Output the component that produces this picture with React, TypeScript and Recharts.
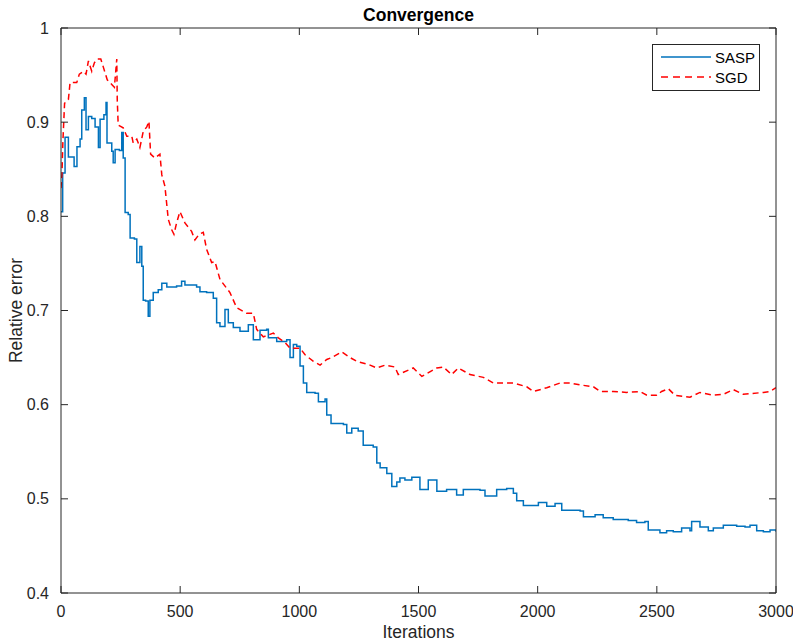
import { Legend, Line, LineChart, XAxis, YAxis } from "recharts";

// SASP relative error vs iteration
const saspIter = [
  0, 7, 17, 31, 55, 67, 80, 87, 98, 105, 115, 129, 143, 157, 164, 180, 189, 193, 213, 219, 227, 245, 255, 261, 269,
  282, 290, 308, 318, 331, 339, 345, 355, 366, 373, 387, 408, 423, 444, 485, 506, 520, 569, 583, 611, 639, 653, 667,
  688, 702, 723, 751, 786, 807, 835, 863, 870, 905, 947, 961, 975, 989, 1003, 1017, 1031, 1066, 1080, 1108, 1115,
  1133, 1185, 1199, 1220, 1247, 1268, 1310, 1325, 1339, 1367, 1388, 1409, 1422, 1443, 1472, 1506, 1541, 1577, 1618,
  1660, 1688, 1758, 1779, 1828, 1870, 1898, 1912, 1940, 1989, 2003, 2038, 2073, 2101, 2136, 2178, 2192, 2241, 2275,
  2317, 2380, 2415, 2450, 2464, 2513, 2541, 2569, 2604, 2639, 2646, 2681, 2716, 2737, 2779, 2835, 2870, 2891, 2919,
  2947, 2975, 3000,
];
const saspErr = [
  0.805, 0.846, 0.884, 0.863, 0.853, 0.874, 0.882, 0.913, 0.926, 0.892, 0.906, 0.904, 0.895, 0.873, 0.903, 0.908,
  0.921, 0.878, 0.869, 0.857, 0.871, 0.87, 0.889, 0.862, 0.804, 0.802, 0.777, 0.776, 0.751, 0.768, 0.747, 0.711, 0.71,
  0.694, 0.711, 0.719, 0.722, 0.729, 0.725, 0.726, 0.731, 0.727, 0.725, 0.72, 0.719, 0.713, 0.687, 0.683, 0.701,
  0.687, 0.682, 0.678, 0.685, 0.669, 0.679, 0.68, 0.671, 0.667, 0.669, 0.65, 0.664, 0.662, 0.641, 0.623, 0.613, 0.612,
  0.603, 0.606, 0.589, 0.58, 0.579, 0.57, 0.575, 0.572, 0.557, 0.555, 0.538, 0.533, 0.527, 0.513, 0.518, 0.522, 0.52,
  0.523, 0.51, 0.52, 0.508, 0.51, 0.504, 0.51, 0.509, 0.503, 0.51, 0.511, 0.506, 0.498, 0.493, 0.493, 0.496, 0.492,
  0.495, 0.488, 0.488, 0.487, 0.481, 0.483, 0.48, 0.478, 0.477, 0.475, 0.476, 0.467, 0.464, 0.466, 0.465, 0.469,
  0.466, 0.476, 0.47, 0.466, 0.469, 0.472, 0.471, 0.47, 0.472, 0.466, 0.465, 0.467, 0.465,
];

// SGD relative error vs iteration
const sgdIter = [
  0, 4, 8, 15, 31, 38, 66, 77, 94, 105, 115, 129, 140, 152, 167, 177, 194, 213, 224, 234, 236, 240, 261, 276, 297, 303,
  318, 331, 345, 360, 369, 376, 394, 415, 423, 436, 450, 464, 474, 485, 499, 520, 548, 562, 580, 597, 611, 632, 646,
  667, 709, 737, 779, 807, 821, 849, 891, 912, 940, 961, 1003, 1024, 1059, 1087, 1115, 1136, 1178, 1213, 1241, 1297,
  1325, 1360, 1401, 1415, 1478, 1514, 1577, 1604, 1639, 1667, 1716, 1772, 1814, 1898, 1954, 1982, 2038, 2094, 2136,
  2178, 2234, 2262, 2317, 2373, 2430, 2458, 2500, 2520, 2548, 2576, 2639, 2681, 2737, 2779, 2821, 2863, 2947, 2975,
  3000,
];
const sgdErr = [
  0.83, 0.845, 0.88, 0.92, 0.924, 0.942, 0.942, 0.951, 0.954, 0.951, 0.965, 0.954, 0.963, 0.967, 0.967, 0.959, 0.945,
  0.94, 0.937, 0.967, 0.924, 0.897, 0.894, 0.885, 0.885, 0.878, 0.882, 0.873, 0.89, 0.895, 0.901, 0.866, 0.862, 0.866,
  0.844, 0.832, 0.797, 0.786, 0.781, 0.793, 0.805, 0.793, 0.784, 0.775, 0.781, 0.783, 0.765, 0.751, 0.752, 0.733,
  0.719, 0.703, 0.697, 0.697, 0.68, 0.672, 0.676, 0.671, 0.666, 0.66, 0.66, 0.653, 0.646, 0.642, 0.648, 0.65, 0.656,
  0.65, 0.646, 0.642, 0.639, 0.642, 0.64, 0.632, 0.639, 0.63, 0.639, 0.64, 0.632, 0.639, 0.632, 0.629, 0.623, 0.623,
  0.619, 0.614, 0.618, 0.623, 0.623, 0.621, 0.619, 0.614, 0.614, 0.613, 0.614, 0.61, 0.61, 0.614, 0.617, 0.61, 0.608,
  0.613, 0.61, 0.611, 0.616, 0.611, 0.613, 0.614, 0.618,
];

const xTicks = [0, 500, 1000, 1500, 2000, 2500, 3000];
const yTicks = [0.4, 0.5, 0.6, 0.7, 0.8, 0.9, 1];

const AXIS = "#262626";
const FONT = "'Liberation Sans', Arial, Helvetica, sans-serif";
const TICK_LEN = 7;

const saspData = saspIter.map((x, i) => ({ x, y: saspErr[i] }));
const sgdData = sgdIter.map((x, i) => ({ x, y: sgdErr[i] }));

const fmtY = (v: number) => String(Math.round(v * 10) / 10);

// MATLAB-style ticks: marks point into the plot box, labels sit outside
const BottomTick = (p: any) => (
  <g>
    <line x1={p.x} x2={p.x} y1={p.y} y2={p.y - TICK_LEN} stroke={AXIS} />
    <text x={p.x} y={p.y + 24} textAnchor="middle" fontSize={16} fill={AXIS} fontFamily={FONT}>
      {p.payload.value}
    </text>
  </g>
);
const LeftTick = (p: any) => (
  <g>
    <line x1={p.x} x2={p.x + TICK_LEN} y1={p.y} y2={p.y} stroke={AXIS} />
    <text x={p.x - 12} y={p.y + 5.5} textAnchor="end" fontSize={16} fill={AXIS} fontFamily={FONT}>
      {fmtY(p.payload.value)}
    </text>
  </g>
);
const TopTick = (p: any) => <line x1={p.x} x2={p.x} y1={p.y} y2={p.y + TICK_LEN} stroke={AXIS} />;
const RightTick = (p: any) => <line x1={p.x} x2={p.x - TICK_LEN} y1={p.y} y2={p.y} stroke={AXIS} />;

const LegendBox = () => (
  <svg width={108} height={47} style={{ display: "block" }}>
    <rect x={0.5} y={0.5} width={107} height={46} fill="#fff" stroke={AXIS} />
    <line x1={9} x2={59} y1={13} y2={13} stroke="#0072BD" strokeWidth={1.5} />
    <line x1={9} x2={59} y1={33} y2={33} stroke="#FF0000" strokeWidth={1.5} strokeDasharray="7 5" />
    <text x={63} y={18.5} fontSize={15} fill="#000" fontFamily={FONT}>
      SASP
    </text>
    <text x={63} y={38.5} fontSize={15} fill="#000" fontFamily={FONT}>
      SGD
    </text>
  </svg>
);

export default function App() {
  return (
    <div style={{ position: "absolute", left: 0, top: 0, width: 793, height: 642, background: "#fff" }}>
      <LineChart width={793} height={642} margin={{ top: 27, right: 16, left: 0, bottom: 0 }}>
        <XAxis
          dataKey="x"
          type="number"
          domain={[0, 3000]}
          ticks={xTicks}
          allowDataOverflow
          height={49}
          stroke={AXIS}
          tickLine={false}
          tickSize={0}
          tickMargin={0}
          tick={BottomTick}
          label={{
            content: () => (
              <text x={418.5} y={638} textAnchor="middle" fontSize={17.5} fill={AXIS} fontFamily={FONT}>
                Iterations
              </text>
            ),
          }}
        />
        <XAxis
          xAxisId="top"
          orientation="top"
          dataKey="x"
          type="number"
          domain={[0, 3000]}
          ticks={xTicks}
          allowDataOverflow
          height={1}
          stroke={AXIS}
          tickLine={false}
          tickSize={0}
          tickMargin={0}
          tick={TopTick}
          label={{
            content: () => (
              <text x={418.5} y={21} textAnchor="middle" fontSize={17.5} fontWeight="bold" fill="#000" fontFamily={FONT}>
                Convergence
              </text>
            ),
          }}
        />
        <YAxis
          type="number"
          domain={[0.4, 1]}
          ticks={yTicks}
          allowDataOverflow
          width={61}
          stroke={AXIS}
          tickLine={false}
          tickSize={0}
          tickMargin={0}
          tick={LeftTick}
          label={{
            content: () => (
              <text
                x={22}
                y={310.5}
                textAnchor="middle"
                fontSize={17.5}
                fill={AXIS}
                fontFamily={FONT}
                transform="rotate(-90 22 310.5)"
              >
                Relative error
              </text>
            ),
          }}
        />
        <YAxis
          yAxisId="right"
          orientation="right"
          type="number"
          domain={[0.4, 1]}
          ticks={yTicks}
          allowDataOverflow
          width={1}
          stroke={AXIS}
          tickLine={false}
          tickSize={0}
          tickMargin={0}
          tick={RightTick}
        />
        <Legend
          layout="vertical"
          align="center"
          verticalAlign="middle"
          wrapperStyle={{ left: 652, top: 44, width: 108, height: 47 }}
          content={() => <LegendBox />}
        />
        <Line
          data={saspData}
          dataKey="y"
          name="SASP"
          type="stepAfter"
          stroke="#0072BD"
          strokeWidth={1.5}
          dot={false}
          activeDot={false}
          isAnimationActive={false}
        />
        <Line
          data={sgdData}
          dataKey="y"
          name="SGD"
          type="linear"
          stroke="#FF0000"
          strokeWidth={1.5}
          strokeDasharray="6 4"
          dot={false}
          activeDot={false}
          isAnimationActive={false}
        />
      </LineChart>
    </div>
  );
}
